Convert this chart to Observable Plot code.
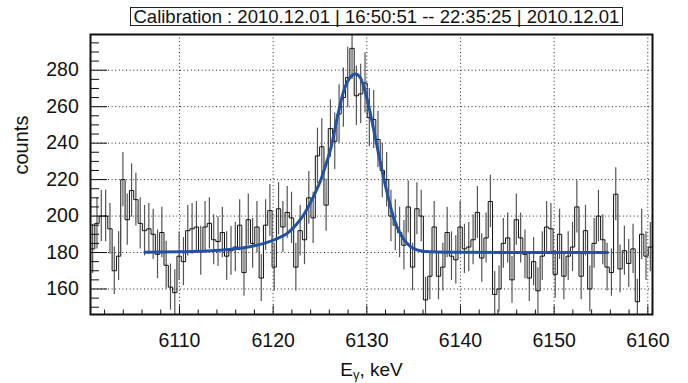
<!DOCTYPE html>
<html>
<head>
<meta charset="utf-8">
<script src="https://cdn.jsdelivr.net/npm/d3@7"></script>
<script src="https://cdn.jsdelivr.net/npm/@observablehq/plot@0.6"></script>
<style>
  body { margin: 0; background: #fff; }
  #wrap { position: relative; width: 688px; height: 383px; font-family: "Liberation Sans", Arial, Helvetica, sans-serif; }
  #title { position: absolute; left: 130px; top: 7px; border: 1px solid #222; padding: 0 2.5px;
           font-size: 18.5px; line-height: 17px; white-space: nowrap; color: #111; background: #fff; }
</style>
</head>
<body>
<div id="wrap"><div id="title">Calibration : 2010.12.01 | 16:50:51 -- 22:35:25 | 2010.12.01</div></div>
<script>
// Histogram range (keV) and bin contents
const xStart = 6100.5;
const xEnd = 6160.5;
const counts = [
  182, 196, 200, 200, 193, 170, 178, 220, 198, 214,
  209, 196, 192, 193, 190, 179, 191, 173, 161, 158,
  178, 175, 192, 193, 194, 181, 194, 196, 187, 186,
  191, 178, 181, 183, 195, 169, 198, 185, 194, 166,
  195, 203, 172, 204, 194, 202, 199, 172, 192, 187,
  210, 199, 233, 238, 206, 248, 241, 256, 265, 276,
  292, 266, 267, 273, 254, 253, 242, 225, 220, 200,
  195, 191, 184, 205, 172, 204, 200, 154, 167, 194,
  167, 172, 191, 178, 176, 194, 182, 183, 187, 202,
  177, 188, 208, 157, 160, 185, 188, 165, 198, 188,
  179, 166, 175, 159, 178, 194, 193, 168, 190, 167,
  178, 183, 205, 167, 192, 160, 185, 200, 187, 172,
  169, 212, 171, 181, 174, 182, 153, 190, 178, 183
];

// Fit curve points
const fitEnergy = [6106.3, 6110, 6113, 6115.5, 6117.5, 6119, 6120.5, 6121.5, 6122.5, 6123.3,
  6124, 6124.6, 6125.1, 6125.8, 6126.2, 6126.8, 6127.5, 6128.2, 6128.8, 6129.3,
  6130, 6130.75, 6131.5, 6132.2, 6132.9, 6133.6, 6134.6, 6135.7, 6136.8, 6140, 6155.7];
const fitCounts = [180.2, 180.4, 180.8, 181.8, 183.2, 185, 187.8, 190.5, 195.5, 201,
  207.5, 214, 220, 231, 238, 253, 268, 276, 278, 276,
  265, 247, 228, 212, 198.5, 190, 183.5, 181, 180.4, 180.1, 180];

// Axis ticks
const xMajor = [6110, 6120, 6130, 6140, 6150, 6160];
const xMinor = [6102, 6104, 6106, 6108, 6112, 6114, 6116, 6118, 6122, 6124, 6126, 6128,
  6132, 6134, 6136, 6138, 6142, 6144, 6146, 6148, 6152, 6154, 6156, 6158];
const yMajor = [160, 180, 200, 220, 240, 260, 280];
const yMinor = [150, 155, 165, 170, 175, 185, 190, 195, 205, 210, 215, 225, 230, 235,
  245, 250, 255, 265, 270, 275, 285, 290, 295];
const yDomain = [146, 299.6];

const binWidth = (xEnd - xStart) / counts.length;
const bins = counts.map((c, i) => ({
  x0: xStart + i * binWidth,
  xc: xStart + (i + 0.5) * binWidth,
  c, err: Math.sqrt(c)
}));
const steps = bins.map(b => ({x: b.x0, y: b.c})).concat([{x: xEnd, y: counts[counts.length - 1]}]);
const fit = fitEnergy.map((e, i) => ({e, c: fitCounts[i]}));

const W = 688, H = 383, mL = 90, mR = 36, mT = 34, mB = 69;
const fw = W - mL - mR, fh = H - mT - mB;
const font = '"Liberation Sans", Arial, Helvetica, sans-serif';

const chart = Plot.plot({
  width: W, height: H,
  marginLeft: mL, marginRight: mR, marginTop: mT, marginBottom: mB,
  style: {fontFamily: font, fontSize: "19.5px", color: "#111", background: "white"},
  x: {domain: [xStart, xEnd], axis: null},
  y: {domain: yDomain, axis: null},
  marks: [
    Plot.ruleX(xMajor, {x: d => d, stroke: "#222", strokeWidth: 1, strokeDasharray: "1,2.6"}),
    Plot.ruleY(yMajor, {y: d => d, stroke: "#222", strokeWidth: 1, strokeDasharray: "1,2.6"}),
    Plot.ruleX(bins, {x: "xc", y1: d => d.c - d.err, y2: d => d.c + d.err, stroke: "#555", strokeWidth: 1.2, clip: true}),
    Plot.line(steps, {x: "x", y: "y", curve: "step-after", stroke: "#111", strokeWidth: 1, clip: true}),
    Plot.line(fit, {x: "e", y: "c", curve: "monotone-x", stroke: "#2352a5", strokeWidth: 3}),
    Plot.tickY(yMajor, {y: d => d, insetRight: fw - 17, stroke: "#111"}),
    Plot.tickY(yMinor, {y: d => d, insetRight: fw - 9, stroke: "#111"}),
    Plot.tickX(xMajor, {x: d => d, insetTop: fh - 8.5, stroke: "#111"}),
    Plot.tickX(xMinor, {x: d => d, insetTop: fh - 4.5, stroke: "#111"}),
    Plot.frame({stroke: "#111", strokeWidth: 2}),
    Plot.text(xMajor, {x: d => d, text: d => String(d), frameAnchor: "bottom", dy: 32.7, lineAnchor: "bottom", fontSize: 19.5, fill: "#111"}),
    Plot.text(yMajor, {y: d => d, text: d => String(d), frameAnchor: "left", dx: -11.7, textAnchor: "end", lineAnchor: "middle", fontSize: 19.5, fill: "#111"}),
    Plot.text(["counts"], {text: d => d, frameAnchor: "left", dx: -63, rotate: -90, lineAnchor: "bottom", fontSize: 20, fill: "#111"}),
    Plot.text(["Eγ, keV"], {text: d => d, frameAnchor: "bottom", dy: 61.5, lineAnchor: "bottom", fontSize: 19, fill: "#111"})
  ]
});

// subscript for the gamma in the x-axis title
d3.select(chart).selectAll("text").filter(function () { return this.textContent === "Eγ, keV"; })
  .each(function () {
    const t = d3.select(this);
    t.text(null);
    t.append("tspan").text("E");
    t.append("tspan").attr("font-size", "13px").attr("dy", "3px").text("γ");
    t.append("tspan").attr("dy", "-3px").text(", keV");
  });

document.getElementById("wrap").appendChild(chart);
</script>
</body>
</html>
